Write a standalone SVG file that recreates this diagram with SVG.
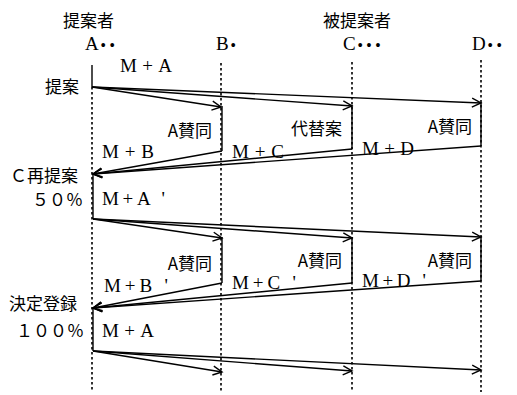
<svg xmlns="http://www.w3.org/2000/svg" width="517" height="395" viewBox="0 0 517 395">
<style>
.t{font-family:"Liberation Serif","Noto Sans CJK JP",serif;font-size:19px;fill:#000}
.j{font-family:"Noto Sans CJK JP","Noto Sans CJK SC",sans-serif;font-size:17px;fill:#000}
.life{stroke:#000;stroke-width:1.6;stroke-dasharray:2.5 2.5;fill:none}
.ln{stroke:#000;stroke-width:1.4;fill:none}
.ar{stroke:#000;stroke-width:1.4;fill:none;marker-end:url(#ah)}
.dt{font-size:14px;letter-spacing:4px;font-weight:bold}
</style>
<defs>
<marker id="ah" markerUnits="userSpaceOnUse" markerWidth="12" markerHeight="12" refX="10" refY="5" orient="auto" viewBox="0 0 12 10">
<path d="M1,0.5 L10,5 L1,9.5" fill="none" stroke="#000" stroke-width="1.4"/>
</marker>
</defs>
<g id="lifelines">
<line class="life" x1="92" y1="87" x2="92" y2="392"/>
<line class="life" x1="221" y1="63" x2="221" y2="392"/>
<line class="life" x1="352" y1="62" x2="352" y2="392"/>
<line class="life" x1="481" y1="60" x2="481" y2="392"/>
</g>
<g id="actor-A"><text class="t" x="85" y="50">A<tspan class="dt" dx="2">••</tspan></text></g>
<g id="actor-B"><text class="t" x="216" y="50">B<tspan class="dt" dx="2">•</tspan></text></g>
<g id="actor-C"><text class="t" x="343" y="50">C<tspan class="dt" dx="2">•••</tspan></text></g>
<g id="actor-D"><text class="t" x="472" y="50">D<tspan class="dt" dx="2">••</tspan></text></g>
<g id="heading-proposer"><text class="j" x="63" y="27">提案者</text></g>
<g id="heading-proposee"><text class="j" x="323" y="27">被提案者</text></g>
<g id="labels-left">
<text class="j" x="45" y="93">提案</text>
<text class="j" x="10" y="182">Ｃ再提案</text>
<text class="j" x="32" y="206">５０％</text>
<text class="j" x="9" y="310" font-size="18">決定登録</text>
<text class="j" x="16" y="337">１００％</text>
</g>
<g id="connectors">
<line class="ln" x1="92" y1="65" x2="92" y2="87"/>
<line class="ar" x1="92" y1="87" x2="221" y2="107"/>
<line class="ar" x1="92" y1="87" x2="352" y2="106"/>
<line class="ar" x1="92" y1="87" x2="481" y2="103"/>
<line class="ln" x1="222" y1="106" x2="222" y2="151"/>
<line class="ln" x1="352" y1="105" x2="352" y2="149"/>
<line class="ln" x1="481" y1="102" x2="481" y2="146"/>
<line class="ar" x1="222" y1="151" x2="93" y2="174"/>
<line class="ar" x1="352" y1="149" x2="93" y2="174"/>
<line class="ar" x1="481" y1="146" x2="93" y2="174"/>
<line class="ln" x1="93" y1="174" x2="93" y2="219"/>
<line class="ar" x1="93" y1="219" x2="222" y2="238"/>
<line class="ar" x1="93" y1="219" x2="352" y2="238"/>
<line class="ar" x1="93" y1="219" x2="481" y2="237"/>
<line class="ln" x1="222" y1="237" x2="222" y2="283"/>
<line class="ln" x1="352" y1="237" x2="352" y2="283"/>
<line class="ln" x1="481" y1="236" x2="481" y2="281"/>
<line class="ar" x1="222" y1="283" x2="93" y2="308"/>
<line class="ar" x1="352" y1="283" x2="93" y2="308"/>
<line class="ar" x1="481" y1="281" x2="93" y2="308"/>
<line class="ln" x1="93" y1="308" x2="93" y2="351"/>
<line class="ar" x1="93" y1="351" x2="222" y2="372"/>
<line class="ar" x1="93" y1="351" x2="352" y2="371"/>
<line class="ar" x1="93" y1="351" x2="481" y2="370"/>
</g>
<g id="msg-labels">
<text class="t" x="120" y="72" textLength="52" lengthAdjust="spacing">M+A</text>
<text class="j" x="212" y="137" text-anchor="end">A賛同</text>
<text class="j" x="342" y="135" text-anchor="end">代替案</text>
<text class="j" x="472" y="133" text-anchor="end">A賛同</text>
<text class="t" x="102" y="158" textLength="52" lengthAdjust="spacing">M+B</text>
<text class="t" x="232" y="158" textLength="52" lengthAdjust="spacing">M+C</text>
<text class="t" x="362" y="155" textLength="52" lengthAdjust="spacing">M+D</text>
<text class="t" x="102" y="205" textLength="63" lengthAdjust="spacing">M+A '</text>
<text class="j" x="212" y="270" text-anchor="end">A賛同</text>
<text class="j" x="342" y="267" text-anchor="end">A賛同</text>
<text class="j" x="472" y="267" text-anchor="end">A賛同</text>
<text class="t" x="104" y="292" textLength="64" lengthAdjust="spacing">M+B '</text>
<text class="t" x="232" y="289" textLength="64" lengthAdjust="spacing">M+C '</text>
<text class="t" x="362" y="287" textLength="64" lengthAdjust="spacing">M+D '</text>
<text class="t" x="102" y="337" textLength="52" lengthAdjust="spacing">M+A</text>
</g>
</svg>
